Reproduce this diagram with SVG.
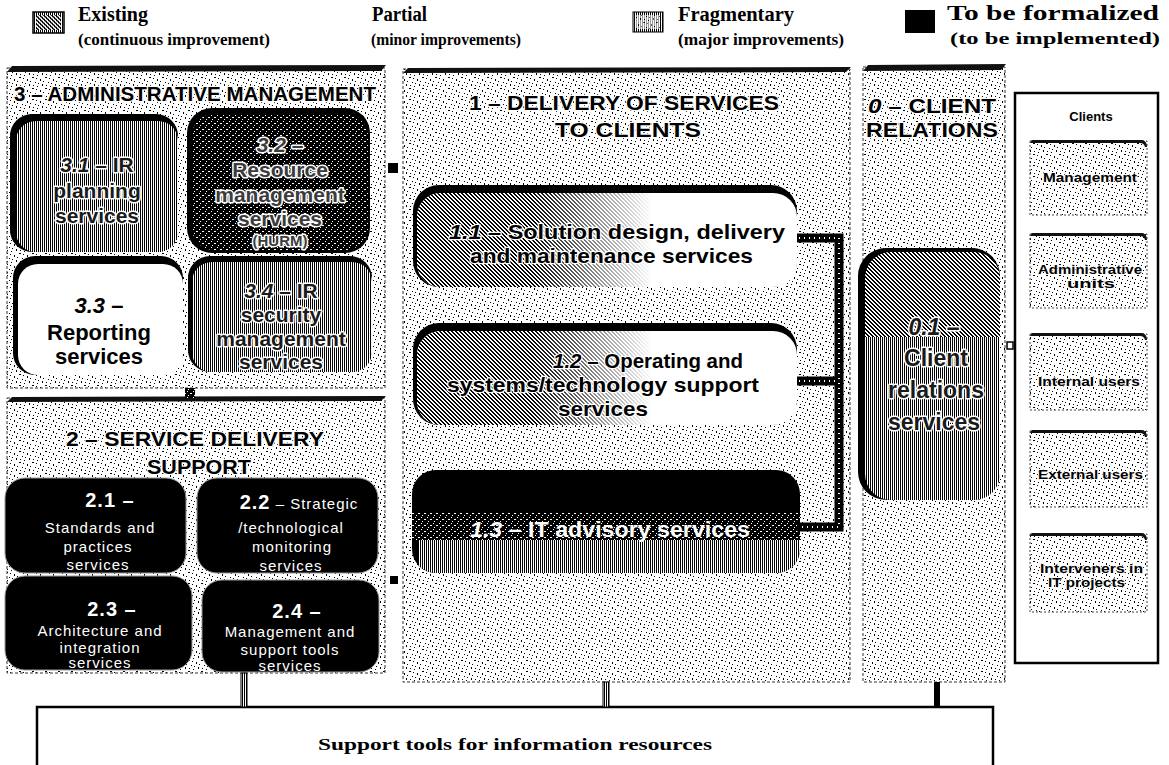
<svg xmlns="http://www.w3.org/2000/svg" width="1169" height="765" viewBox="0 0 1169 765">
  <defs>
    <!-- speckled halftone used for panel backgrounds -->
    <pattern id="speck" width="13" height="11" patternUnits="userSpaceOnUse">
      <rect width="13" height="11" fill="#fff"/>
      <rect x="1" y="2" width="1" height="2" fill="#000"/>
      <rect x="6" y="0" width="2" height="1" fill="#000"/>
      <rect x="9" y="5" width="1" height="1" fill="#000"/>
      <rect x="3" y="7" width="1" height="2" fill="#000"/>
      <rect x="11" y="9" width="1" height="1" fill="#000"/>
      <rect x="7" y="8" width="1" height="1" fill="#000"/>
      <rect x="10" y="1" width="1" height="1" fill="#000"/>
      <rect x="4" y="4" width="1" height="1" fill="#000"/>
      <rect x="12" y="6" width="1" height="1" fill="#000"/>
    </pattern>
    <!-- vertical line hatch: mid grey -->
    <pattern id="stripe" width="2" height="2" patternUnits="userSpaceOnUse">
      <rect width="2" height="2" fill="#fff"/>
      <rect width="1" height="2" fill="#000"/>
    </pattern>
    <!-- black with sparse light flecks -->
    <pattern id="dark" width="6" height="6" patternUnits="userSpaceOnUse">
      <rect width="6" height="6" fill="#000"/>
      <rect x="1" y="1" width="1" height="1" fill="#fff"/>
      <rect x="4" y="3" width="2" height="1" fill="#fff"/>
      <rect x="2" y="5" width="1" height="1" fill="#fff"/>
    </pattern>
    <!-- diagonal mottled hatch -->
    <pattern id="diag" width="4" height="4" patternUnits="userSpaceOnUse">
      <rect width="4" height="4" fill="#fff"/>
      <path d="M0,0h2v1h-2zM1,1h2v1h-2zM2,2h2v1h-2zM3,3h1v1h-1zM0,3h1v1h-1z" fill="#000"/>
    </pattern>
    <linearGradient id="fadeR" x1="0" y1="0" x2="1" y2="0">
      <stop offset="0" stop-color="#fff"/>
      <stop offset="0.3" stop-color="#fff"/>
      <stop offset="0.62" stop-color="#000"/>
    </linearGradient>
    <mask id="fadeMask" maskContentUnits="objectBoundingBox">
      <rect width="1" height="1" fill="url(#fadeR)"/>
    </mask>
    <clipPath id="clip13"><rect x="412" y="470" width="388" height="103" rx="24"/></clipPath>
    <clipPath id="clip01"><rect x="865" y="252" width="135" height="248" rx="26"/></clipPath>
    <style>
      .legend { font-family: "Liberation Serif", "Times New Roman", serif; font-weight: bold; fill: #000; }
      .hdr { font-family: "Liberation Sans", Arial, sans-serif; font-weight: bold; font-size: 21px; fill: #000; stroke: #fff; stroke-width: 2.4; stroke-linejoin: round; paint-order: stroke; }
      .lbl { font-family: "Liberation Sans", Arial, sans-serif; font-weight: bold; font-size: 21px; fill: #1a1a1a; stroke: #fff; stroke-width: 3; stroke-linejoin: round; paint-order: stroke; text-anchor: middle; }
      .lbl-dk { fill: #3c3c3c; }
      .plain { font-family: "Liberation Sans", Arial, sans-serif; font-weight: bold; font-size: 22px; fill: #000; text-anchor: middle; }
      .wt { font-family: "Liberation Sans", Arial, sans-serif; font-size: 15px; fill: #fff; letter-spacing: 1px; text-anchor: middle; }
      .wtb { font-weight: bold; font-size: 20px; }
      .cl { font-family: "Liberation Sans", Arial, sans-serif; font-weight: bold; font-size: 13px; fill: #000; stroke: #fff; stroke-width: 1.5; stroke-linejoin: round; paint-order: stroke; }
      .panel { fill: url(#speck); stroke: #333; stroke-width: 1; stroke-dasharray: 3 2; }
      .edge { fill: #111; }
      .sub { fill: url(#speck); stroke: #444; stroke-width: 1; stroke-dasharray: 2 2; }
    </style>
  </defs>

  <rect width="1169" height="765" fill="#fff"/>

  <!-- legend -->
  <g id="legend">
    <rect x="33" y="12" width="31" height="21" fill="url(#stripe)" stroke="#000" stroke-width="1.5"/>
    <rect x="36" y="15" width="25" height="15" fill="url(#diag)" opacity="0.8"/>
    <text class="legend" x="78" y="21" font-size="20" textLength="70" lengthAdjust="spacingAndGlyphs">Existing</text>
    <text class="legend" x="78" y="45" font-size="16" textLength="192" lengthAdjust="spacingAndGlyphs">(continuous improvement)</text>
    <text class="legend" x="372" y="21" font-size="20" textLength="55" lengthAdjust="spacingAndGlyphs">Partial</text>
    <text class="legend" x="371" y="45" font-size="16" textLength="150" lengthAdjust="spacingAndGlyphs">(minor improvements)</text>
    <rect x="633" y="12" width="30" height="20" fill="url(#stripe)" stroke="#000" stroke-width="1"/>
    <rect x="636" y="15" width="24" height="14" fill="url(#speck)" opacity="0.6"/>
    <text class="legend" x="678" y="21" font-size="20" textLength="116" lengthAdjust="spacingAndGlyphs">Fragmentary</text>
    <text class="legend" x="678" y="45" font-size="16" textLength="166" lengthAdjust="spacingAndGlyphs">(major improvements)</text>
    <rect x="905" y="10" width="30" height="23" fill="#000"/>
    <text class="legend" x="947" y="20" font-size="20" textLength="212" lengthAdjust="spacingAndGlyphs">To be formalized</text>
    <text class="legend" x="950" y="44" font-size="16" textLength="210" lengthAdjust="spacingAndGlyphs">(to be implemented)</text>
  </g>

  <!-- 3 - administrative management -->
  <g id="panel-3">
    <rect class="panel" x="7" y="68" width="378" height="320"/>
    <path class="edge" d="M7,72 L12,66 L386,65 L381,71 Z"/>
    <text class="hdr" x="14" y="101" textLength="362" lengthAdjust="spacingAndGlyphs">3 – ADMINISTRATIVE MANAGEMENT</text>
  </g>
  <g id="node-3-1">
    <rect x="10" y="114" width="168" height="138" rx="22" fill="#000"/>
    <rect x="16" y="121" width="162" height="131" rx="20" fill="url(#stripe)"/>
    <text class="lbl" x="97" y="172"><tspan font-style="italic">3.1</tspan> – IR</text>
    <text class="lbl" x="97" y="198">planning</text>
    <text class="lbl" x="97" y="223">services</text>
  </g>
  <g id="node-3-2">
    <rect x="187" y="108" width="183" height="145" rx="25" fill="#000"/>
    <rect x="192" y="114" width="176" height="136" rx="22" fill="url(#dark)"/>
    <text class="lbl lbl-dk" x="280" y="152"><tspan font-style="italic">3.2</tspan> –</text>
    <text class="lbl lbl-dk" x="280" y="177">Resource</text>
    <text class="lbl lbl-dk" x="280" y="202">management</text>
    <text class="lbl lbl-dk" x="280" y="226">services</text>
    <text class="lbl lbl-dk" x="280" y="246" style="font-size:15px">(HURM)</text>
  </g>
  <g id="node-3-3">
    <rect x="13" y="256" width="170" height="119" rx="22" fill="#000"/>
    <rect x="18" y="264" width="165" height="111" rx="20" fill="#fff"/>
    <text class="plain" x="99" y="313"><tspan font-style="italic">3.3</tspan> –</text>
    <text class="plain" x="99" y="340">Reporting</text>
    <text class="plain" x="99" y="364">services</text>
  </g>
  <g id="node-3-4">
    <rect x="188" y="256" width="184" height="116" rx="22" fill="#000"/>
    <rect x="192" y="262" width="180" height="110" rx="20" fill="url(#stripe)"/>
    <text class="lbl" x="281" y="298"><tspan font-style="italic">3.4</tspan> – IR</text>
    <text class="lbl" x="281" y="322">security</text>
    <text class="lbl" x="281" y="346">management</text>
    <text class="lbl" x="281" y="369">services</text>
  </g>

  <!-- 2 - service delivery support -->
  <g id="panel-2">
    <rect class="panel" x="7" y="398" width="378" height="275"/>
    <path class="edge" d="M7,402 L12,397 L386,396 L381,401 Z"/>
    <text class="hdr" x="66" y="446" font-size="22" textLength="258" lengthAdjust="spacingAndGlyphs">2 – SERVICE DELIVERY</text>
    <text class="hdr" x="147" y="474" font-size="22" textLength="104" lengthAdjust="spacingAndGlyphs">SUPPORT</text>
  </g>
  <g id="node-2-1">
    <rect x="5" y="478" width="181" height="95" rx="20" fill="#000" stroke="#999" stroke-width="1"/>
    <text class="wt wtb" x="110" y="507">2.1 –</text>
    <text class="wt" x="100" y="533">Standards and</text>
    <text class="wt" x="98" y="552">practices</text>
    <text class="wt" x="98" y="570">services</text>
  </g>
  <g id="node-2-2">
    <rect x="197" y="478" width="181" height="95" rx="20" fill="#000" stroke="#999" stroke-width="1"/>
    <text class="wt" x="299" y="509"><tspan class="wtb">2.2</tspan> – Strategic</text>
    <text class="wt" x="291" y="533">/technological</text>
    <text class="wt" x="292" y="552">monitoring</text>
    <text class="wt" x="291" y="571">services</text>
  </g>
  <g id="node-2-3">
    <rect x="5" y="576" width="187" height="94" rx="20" fill="#000" stroke="#999" stroke-width="1"/>
    <text class="wt wtb" x="112" y="616">2.3 –</text>
    <text class="wt" x="100" y="636">Architecture and</text>
    <text class="wt" x="100" y="653">integration</text>
    <text class="wt" x="100" y="668">services</text>
  </g>
  <g id="node-2-4">
    <rect x="202" y="580" width="177" height="92" rx="20" fill="#000" stroke="#999" stroke-width="1"/>
    <text class="wt wtb" x="297" y="618">2.4 –</text>
    <text class="wt" x="290" y="637">Management and</text>
    <text class="wt" x="290" y="655">support tools</text>
    <text class="wt" x="290" y="671">services</text>
  </g>

  <!-- 1 - delivery of services to clients -->
  <g id="panel-1">
    <rect class="panel" x="403" y="69" width="447" height="613"/>
    <path class="edge" d="M403,73 L408,68 L851,67 L846,72 Z"/>
    <text class="hdr" x="469" y="110" font-size="22" textLength="310" lengthAdjust="spacingAndGlyphs">1 – DELIVERY OF SERVICES</text>
    <text class="hdr" x="555" y="137" font-size="22" textLength="146" lengthAdjust="spacingAndGlyphs">TO CLIENTS</text>
  </g>
  <g id="node-1-1">
    <rect x="413" y="185" width="384" height="102" rx="26" fill="#000"/>
    <rect x="417" y="193" width="380" height="94" rx="24" fill="#fff"/>
    <rect x="417" y="193" width="380" height="94" rx="24" fill="url(#diag)" mask="url(#fadeMask)"/>
    <text class="hdr" x="449" y="239" textLength="336" lengthAdjust="spacingAndGlyphs"><tspan font-style="italic">1.1</tspan> – Solution design, delivery</text>
    <text class="hdr" x="470" y="263" textLength="283" lengthAdjust="spacingAndGlyphs">and maintenance services</text>
  </g>
  <g id="node-1-2">
    <rect x="413" y="323" width="384" height="102" rx="26" fill="#000"/>
    <rect x="417" y="331" width="380" height="94" rx="24" fill="#fff"/>
    <rect x="417" y="331" width="380" height="94" rx="24" fill="url(#diag)" mask="url(#fadeMask)"/>
    <text class="hdr" x="553" y="368" textLength="190" lengthAdjust="spacingAndGlyphs"><tspan font-style="italic">1.2</tspan> – Operating and</text>
    <text class="hdr" x="447" y="392" textLength="312" lengthAdjust="spacingAndGlyphs">systems/technology support</text>
    <text class="hdr" x="558" y="416" textLength="90" lengthAdjust="spacingAndGlyphs">services</text>
  </g>
  <g id="node-1-3">
    <rect x="412" y="470" width="388" height="103" rx="24" fill="#000"/>
    <g clip-path="url(#clip13)">
      <rect x="412" y="512" width="388" height="28" fill="url(#dark)"/>
      <rect x="418" y="540" width="382" height="33" fill="url(#stripe)"/>
    </g>
    <text x="470" y="537" font-family="'Liberation Sans', Arial, sans-serif" font-weight="bold" font-size="22" fill="#fff" textLength="280" lengthAdjust="spacingAndGlyphs"><tspan font-style="italic">1.3</tspan> – IT advisory services</text>
  </g>

  <!-- 0 - client relations -->
  <g id="panel-0">
    <rect class="panel" x="863" y="67" width="142" height="615"/>
    <path class="edge" d="M863,71 L868,65 L1006,64 L1001,70 Z"/>
    <text class="hdr" x="868" y="113" font-size="22" textLength="128" lengthAdjust="spacingAndGlyphs"><tspan font-style="italic">0</tspan> – CLIENT</text>
    <text class="hdr" x="866" y="137" font-size="22" textLength="132" lengthAdjust="spacingAndGlyphs">RELATIONS</text>
  </g>
  <g id="node-0-1">
    <rect x="858" y="248" width="142" height="252" rx="28" fill="#000"/>
    <g clip-path="url(#clip01)">
      <rect x="865" y="252" width="135" height="85" fill="url(#diag)"/>
      <rect x="865" y="337" width="135" height="163" fill="url(#stripe)"/>
    </g>
    <text class="lbl" x="934" y="335" style="font-size:23px"><tspan font-style="italic">0.1</tspan> –</text>
    <text class="lbl" x="936" y="366" style="font-size:23px">Client</text>
    <text class="lbl" x="936" y="398" style="font-size:23px">relations</text>
    <text class="lbl" x="934" y="430" style="font-size:23px">services</text>
  </g>

  <!-- clients column -->
  <g id="clients">
    <rect x="1015" y="93" width="143" height="570" fill="#fff" stroke="#000" stroke-width="2.5"/>
    <text x="1091" y="121" font-family="'Liberation Sans', Arial, sans-serif" font-weight="bold" font-size="13" text-anchor="middle">Clients</text>
  </g>
  <g id="client-management">
    <rect class="sub" x="1030" y="141" width="117" height="74"/>
    <path class="edge" d="M1030,143 L1032,140 L1142,140 Q1147,141 1147,147 L1145,147 Q1144,143 1140,143 Z"/>
    <text class="cl" x="1043" y="182" textLength="94" lengthAdjust="spacingAndGlyphs">Management</text>
  </g>
  <g id="client-admin">
    <rect class="sub" x="1030" y="234" width="117" height="74"/>
    <path class="edge" d="M1030,236 L1032,233 L1142,233 Q1147,234 1147,240 L1145,240 Q1144,236 1140,236 Z"/>
    <text class="cl" x="1038" y="274" textLength="104" lengthAdjust="spacingAndGlyphs">Administrative</text>
    <text class="cl" x="1067" y="288" textLength="48" lengthAdjust="spacingAndGlyphs">units</text>
  </g>
  <g id="client-internal">
    <rect class="sub" x="1030" y="334" width="117" height="76"/>
    <path class="edge" d="M1030,336 L1032,333 L1142,333 Q1147,334 1147,340 L1145,340 Q1144,336 1140,336 Z"/>
    <text class="cl" x="1038" y="386" textLength="102" lengthAdjust="spacingAndGlyphs">Internal users</text>
  </g>
  <g id="client-external">
    <rect class="sub" x="1030" y="431" width="117" height="76"/>
    <path class="edge" d="M1030,433 L1032,430 L1142,430 Q1147,431 1147,437 L1145,437 Q1144,433 1140,433 Z"/>
    <text class="cl" x="1038" y="479" textLength="105" lengthAdjust="spacingAndGlyphs">External users</text>
  </g>
  <g id="client-interveners">
    <rect class="sub" x="1030" y="534" width="117" height="78"/>
    <path class="edge" d="M1030,536 L1032,533 L1142,533 Q1147,534 1147,540 L1145,540 Q1144,536 1140,536 Z"/>
    <text class="cl" x="1040" y="573" textLength="103" lengthAdjust="spacingAndGlyphs">Interveners in</text>
    <text class="cl" x="1048" y="587" textLength="77" lengthAdjust="spacingAndGlyphs">IT projects</text>
  </g>

  <!-- support tools -->
  <g id="support-tools">
    <path d="M37,790 V707 H993 V790" fill="#fff" stroke="#000" stroke-width="2.5"/>
    <text class="legend" x="515" y="750" font-size="17" text-anchor="middle" textLength="394" lengthAdjust="spacingAndGlyphs">Support tools for information resources</text>
  </g>

  <!-- connectors -->
  <g id="connectors">
    <path d="M797,238 H839 V527 H797 M797,381 H839" fill="none" stroke="#000" stroke-width="9"/>
    <path d="M799,238 H839 V527 H799 M799,381 H839" fill="none" stroke="#fff" stroke-width="2" stroke-dasharray="1 4"/>
    <rect x="388" y="163" width="10" height="10" fill="#000"/>
    <rect x="185" y="388" width="10" height="10" fill="url(#dark)"/>
    <rect x="390" y="576" width="8" height="8" fill="#000"/>
    <rect x="1007" y="342" width="6" height="7" fill="#fff" stroke="#000" stroke-width="1.5"/>
    <rect x="241" y="673" width="6" height="34" fill="url(#stripe)" stroke="#000" stroke-width="1"/>
    <rect x="603" y="682" width="6" height="25" fill="url(#stripe)" stroke="#000" stroke-width="1"/>
    <rect x="934" y="682" width="6" height="25" fill="#000"/>
  </g>
</svg>
